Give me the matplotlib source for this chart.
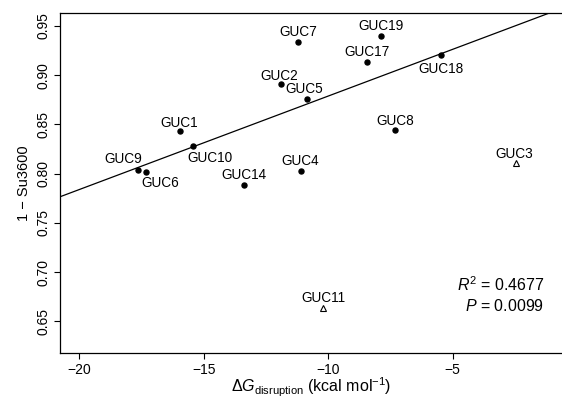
import numpy as np
import matplotlib
matplotlib.use('Agg')
import matplotlib.pyplot as plt

plt.rcParams['font.family'] = ['Liberation Sans', 'DejaVu Sans']
plt.rcParams['mathtext.fontset'] = 'custom'
plt.rcParams['mathtext.rm'] = 'Liberation Sans'
plt.rcParams['mathtext.it'] = 'Liberation Sans:italic'

# filled points (used in the fit)
names = ['GUC9', 'GUC6', 'GUC1', 'GUC10', 'GUC14', 'GUC2', 'GUC7', 'GUC5',
         'GUC4', 'GUC19', 'GUC17', 'GUC18', 'GUC8']
dg = [-17.63, -17.33, -15.96, -15.45, -13.37, -11.90, -11.20, -10.87,
      -11.08, -7.86, -8.43, -5.45, -7.31]
su = [0.8037, 0.8016, 0.8433, 0.8284, 0.7880, 0.8907, 0.9340, 0.8758,
      0.8030, 0.9398, 0.9137, 0.9205, 0.8446]

# outliers (open triangles)
out_names = ['GUC3', 'GUC11']
out_dg = [-2.46, -10.20]
out_su = [0.811, 0.664]

# regression line
intercept = 0.9737
slope = 0.00949
r2 = 0.4677
pval = 0.0099

xticks = [-20, -15, -10, -5]
yticks = [0.65, 0.70, 0.75, 0.80, 0.85, 0.90, 0.95]

# label offsets in pixels (dx, dy) relative to the point
offs = {'GUC9': (-15, 11), 'GUC6': (14, -11), 'GUC1': (-1, 8), 'GUC10': (17, -12),
        'GUC14': (0, 10), 'GUC2': (-2, 8), 'GUC7': (0, 10), 'GUC5': (-2, 10),
        'GUC4': (-1, 10), 'GUC19': (0, 10), 'GUC17': (0, 10), 'GUC18': (0, -14),
        'GUC8': (0, 9), 'GUC3': (-1, 9), 'GUC11': (0, 10)}

fig = plt.figure(figsize=(5.62, 3.97), dpi=100)
ax = fig.add_axes([60 / 562, 44 / 397, 502 / 562, 340 / 397])

xs = np.array([-21.0, 0.0])
ax.plot(xs, intercept + slope * xs, color='black', lw=0.9)
ax.plot(dg, su, 'o', color='black', ms=3.6, ls='none')
ax.plot(out_dg, out_su, '^', mfc='white', mec='black', mew=0.8, ms=4.5, ls='none')

for n, x, y in zip(names + out_names, dg + out_dg, su + out_su):
    dx, dy = offs[n]
    ax.annotate(n, (x, y), xytext=(dx, dy), textcoords='offset pixels',
                ha='center', va='center', fontsize=9.8)

ax.text(0.965, 0.2, r'$R^2$ = %.4f' % r2, transform=ax.transAxes,
        ha='right', va='center', fontsize=11.5)
ax.text(0.965, 0.138, r'$P$ = %.4f' % pval, transform=ax.transAxes,
        ha='right', va='center', fontsize=11.5)

ax.set_xlim(-20.78, -0.6)
ax.set_ylim(0.6178, 0.9632)
ax.set_xticks(xticks)
ax.set_xticklabels(['\u2212%d' % abs(t) for t in xticks])
ax.set_yticks(yticks)
ax.set_yticklabels(['%.2f' % t for t in yticks], rotation=90, va='center')
ax.tick_params(direction='out', length=4, width=0.8, labelsize=10, pad=3)
ax.spines['right'].set_visible(False)
for s in ['left', 'bottom', 'top']:
    ax.spines[s].set_linewidth(0.9)

ax.set_xlabel(r'$\Delta G_{\mathrm{disruption}}$ (kcal mol$^{-1}$)', fontsize=11.5, labelpad=-1)
ax.set_ylabel('1 \u2212 Su3600', fontsize=10.5, labelpad=4)

fig.savefig('out.png', dpi=100)
